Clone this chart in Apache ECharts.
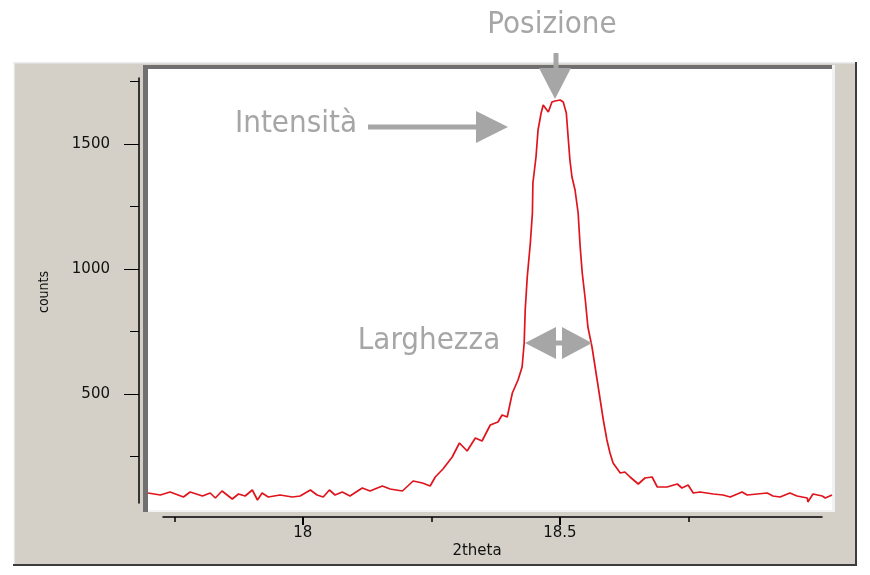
<!DOCTYPE html>
<html><head><meta charset="utf-8">
<script src="https://cdn.jsdelivr.net/npm/echarts@6/dist/echarts.min.js"></script>
<style>html,body{margin:0;padding:0;background:#fff}#c{width:870px;height:575px}</style>
</head><body><div id="c"></div>
<script>
// ---- data (2theta in degrees, intensity in counts) ----
const theta = [17.698,17.722,17.741,17.767,17.780,17.804,17.819,17.829,17.842,17.862,
17.874,17.887,17.901,17.911,17.920,17.932,17.955,17.979,17.994,18.014,
18.027,18.039,18.051,18.062,18.076,18.091,18.115,18.130,18.154,18.169,
18.193,18.214,18.232,18.247,18.257,18.272,18.290,18.304,18.319,18.335,
18.348,18.364,18.379,18.387,18.397,18.407,18.418,18.426,18.430,18.432,
18.436,18.442,18.446,18.447,18.453,18.457,18.463,18.467,18.477,18.484,
18.490,18.500,18.506,18.512,18.516,18.519,18.523,18.529,18.535,18.539,
18.543,18.549,18.554,18.562,18.572,18.578,18.584,18.591,18.597,18.603,
18.617,18.626,18.636,18.652,18.665,18.679,18.689,18.708,18.728,18.737,
18.749,18.759,18.772,18.798,18.817,18.831,18.854,18.864,18.903,18.914,
18.928,18.947,18.961,18.981,18.982,18.992,19.010,19.016,19.029];
const counts = [104,96,108,88,108,92,104,84,112,80,
100,92,116,76,104,88,96,88,92,116,
96,88,116,96,108,92,124,112,132,120,
112,152,144,132,168,200,248,304,272,324,
312,376,388,416,408,504,556,608,704,836,
968,1104,1224,1344,1448,1556,1624,1656,1628,1668,
1672,1676,1668,1624,1516,1436,1368,1316,1224,1088,
984,876,768,688,556,476,396,316,264,224,
184,188,168,140,164,168,128,128,140,124,
136,104,108,100,96,88,108,96,104,92,
88,104,92,84,68,100,92,84,96];
const majorY = [500, 1000, 1500];
const minorY = [250, 750, 1250, 1750];
const majorX = [18, 18.5];
const minorX = [17.75, 18.25, 18.75];
const xName = '2theta';
const yName = 'counts';
const notes = ['Posizione', 'Intensità', 'Larghezza'];

const chart = echarts.init(document.getElementById('c'));
const GRAY = '#a6a6a6';
const annFont = "'DejaVu Sans Condensed','DejaVu Sans',sans-serif";
const tickFont = "'DejaVu Sans',sans-serif";
const tickLabel = {color:'#111', fontFamily: tickFont, fontSize: 15};

const option = {
  backgroundColor: '#fff',
  animation: false,
  grid: [
    {left:148, top:69, width:684, height:441},
    {left:139, top:78, width:10, height:425},
    {left:163, top:100, width:659, height:417}
  ],
  xAxis: [
    {gridIndex:0, type:'value', min:17.698, max:19.029, show:false},
    {gridIndex:1, type:'value', min:0, max:1, show:false},
    {gridIndex:2, type:'value', position:'bottom', min:17.728, max:19.010,
      axisLine:{show:true, lineStyle:{color:'#000', width:1.5}},
      axisTick:{show:true, length:8, customValues:majorX, lineStyle:{color:'#000', width:2}},
      axisLabel:{show:true, customValues:majorX, margin:9, formatter: v => String(v), ...tickLabel},
      splitLine:{show:false}},
    {gridIndex:2, type:'value', position:'bottom', min:17.728, max:19.010,
      axisLine:{show:false},
      axisTick:{show:true, length:5, customValues:minorX, lineStyle:{color:'#000', width:1.5}},
      axisLabel:{show:false}, splitLine:{show:false}}
  ],
  yAxis: [
    {gridIndex:0, type:'value', min:36, max:1800, show:false},
    {gridIndex:1, type:'value', position:'left', min:64, max:1764,
      axisLine:{show:true, lineStyle:{color:'#000', width:1.5}},
      axisTick:{show:true, length:15, customValues:majorY, lineStyle:{color:'#000', width:1}},
      axisLabel:{show:true, customValues:majorY, margin:29, formatter: v => String(v), ...tickLabel},
      splitLine:{show:false}},
    {gridIndex:1, type:'value', position:'left', min:64, max:1764,
      axisLine:{show:false},
      axisTick:{show:true, length:9, customValues:minorY, lineStyle:{color:'#000', width:1}},
      axisLabel:{show:false}, splitLine:{show:false}},
    {gridIndex:2, type:'value', min:0, max:1, show:false}
  ],
  series: [{
    type:'line', xAxisIndex:0, yAxisIndex:0,
    data: theta.map((t, i) => [t, counts[i]]),
    showSymbol:false, symbol:'none',
    lineStyle:{color:'#e0141c', width:1.7},
    z: 5
  }],
  graphic: { elements: [
    {type:'rect', z:-10, shape:{x:13, y:62, width:844, height:504}, style:{fill:'#d4d0c8'}},
    {type:'rect', z:-9, shape:{x:13, y:62, width:1.5, height:504}, style:{fill:'#fafafa'}},
    {type:'rect', z:-9, shape:{x:13, y:62, width:844, height:1.5}, style:{fill:'#ececec'}},
    {type:'rect', z:-9, shape:{x:13, y:564, width:844, height:2}, style:{fill:'#3c3c3c'}},
    {type:'rect', z:-9, shape:{x:855, y:62, width:2, height:504}, style:{fill:'#3c3c3c'}},
    {type:'rect', z:-8, shape:{x:143, y:65, width:692, height:447}, style:{fill:'#f2f2f2'}},
    {type:'rect', z:-7, shape:{x:143, y:65, width:5, height:447}, style:{fill:'#707070'}},
    {type:'rect', z:-7, shape:{x:143, y:65, width:689, height:4}, style:{fill:'#707070'}},
    {type:'rect', z:-6, shape:{x:148, y:69, width:684, height:441}, style:{fill:'#ffffff'}},
    // axis names
    {type:'text', z:20, x:477, y:551, style:{text:xName, fill:'#111', font:"15px 'DejaVu Sans',sans-serif", align:'center', verticalAlign:'middle'}},
    {type:'text', z:20, x:44, y:292, rotation:Math.PI/2, style:{text:yName, fill:'#111', font:"14px 'DejaVu Sans Condensed','DejaVu Sans',sans-serif", align:'center', verticalAlign:'middle'}},
    // annotations
    {type:'text', z:30, x:552, y:25, style:{text:notes[0], fill:GRAY, font:"31px " + annFont, align:'center', verticalAlign:'middle'}},
    {type:'text', z:30, x:296, y:124, style:{text:notes[1], fill:GRAY, font:"31px " + annFont, align:'center', verticalAlign:'middle'}},
    {type:'text', z:30, x:429, y:341, style:{text:notes[2], fill:GRAY, font:"31px " + annFont, align:'center', verticalAlign:'middle'}},
    // arrows
    {type:'rect', z:30, shape:{x:368, y:124.5, width:110, height:5}, style:{fill:GRAY}},
    {type:'polygon', z:30, shape:{points:[[476,111],[508,127],[476,143]]}, style:{fill:GRAY}},
    {type:'rect', z:30, shape:{x:553.5, y:53, width:5, height:17}, style:{fill:GRAY}},
    {type:'polygon', z:30, shape:{points:[[539,68],[571,68],[555,99]]}, style:{fill:GRAY}},
    {type:'polygon', z:30, shape:{points:[[525,343],[556,327],[556,359]]}, style:{fill:GRAY}},
    {type:'polygon', z:30, shape:{points:[[592,343],[562,327],[562,359]]}, style:{fill:GRAY}},
    {type:'rect', z:30, shape:{x:550, y:340.5, width:18, height:5}, style:{fill:GRAY}}
  ]}
};
chart.setOption(option);
</script>
</body></html>
